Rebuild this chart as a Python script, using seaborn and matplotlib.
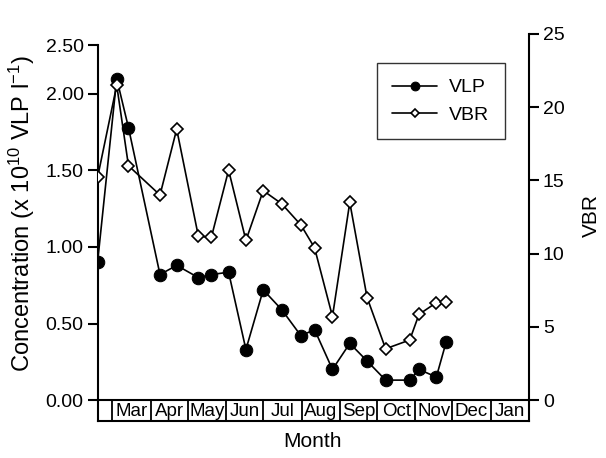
import matplotlib.pyplot as plt
import seaborn as sns

sns.set_style('ticks')
plt.rcParams['font.family'] = ['Liberation Sans', 'DejaVu Sans']
plt.rcParams['mathtext.fontset'] = 'custom'
plt.rcParams['mathtext.rm'] = 'Liberation Sans'
plt.rcParams['mathtext.it'] = 'Liberation Sans:italic'
plt.rcParams['text.color'] = 'black'
plt.rcParams['axes.labelcolor'] = 'black'
plt.rcParams['xtick.color'] = 'black'
plt.rcParams['ytick.color'] = 'black'

# sampling day, counted from 1 March
days = [-12, 3.5, 13, 38.5, 52, 69.5, 80, 94, 108, 122, 137, 152.5, 163.5,
        178, 192, 206, 221, 240.5, 248, 262, 270]
vlp = [0.90, 2.10, 1.78, 0.82, 0.88, 0.80, 0.82, 0.835, 0.33, 0.72, 0.59,
       0.42, 0.46, 0.20, 0.37, 0.255, 0.13, 0.13, 0.20, 0.15, 0.38]
vbr = [15.2, 21.5, 16.0, 14.0, 18.5, 11.2, 11.1, 15.7, 10.9, 14.3, 13.4,
       11.95, 10.4, 5.7, 13.5, 7.0, 3.5, 4.1, 5.85, 6.65, 6.7]

months = ['', 'Mar', 'Apr', 'May', 'Jun', 'Jul', 'Aug', 'Sep', 'Oct', 'Nov', 'Dec', 'Jan']
month_len = [12, 31, 30, 31, 30, 31, 31, 30, 31, 30, 31, 31]
yticks = [0, 0.5, 1.0, 1.5, 2.0, 2.32]
ytick_labels = ['0.00', '0.50', '1.00', '1.50', '2.00', '2.50']

fig = plt.figure(figsize=(6.06, 4.58), dpi=100)
ax = fig.add_axes([0.161, 0.1266, 0.712, 0.7992])
ax2 = ax.twinx()
axm = fig.add_axes([0.161, 0.0808, 0.712, 0.0458])

sns.lineplot(x=days, y=vlp, ax=ax, color='black', marker='o', markersize=9,
             linewidth=1.2, markeredgecolor='black', sort=False)
sns.lineplot(x=days, y=vbr, ax=ax2, color='black', marker='D', markersize=6.5,
             linewidth=1.2, markerfacecolor='white', markeredgecolor='black',
             markeredgewidth=1.2, sort=False)

x0 = -month_len[0]
x1 = sum(month_len[1:])
for a in (ax, ax2, axm):
    a.set_xlim(x0, x1)

ax.set_ylim(0, 2.392)
ax.spines['left'].set_bounds(0, 2.32)
ax.set_yticks(yticks)
ax.set_yticklabels(ytick_labels)
ax2.set_ylim(0, 25)
ax2.set_yticks([0, 5, 10, 15, 20, 25])

for s in ['top', 'right', 'bottom']:
    ax.spines[s].set_visible(False)
for s in ['top', 'left', 'bottom']:
    ax2.spines[s].set_visible(False)
ax.spines['left'].set_linewidth(1.5)
ax.spines['left'].set_color('black')
ax2.spines['right'].set_linewidth(1.5)
ax2.spines['right'].set_color('black')
ax.set_xticks([])
ax2.set_xticks([])
ax.tick_params(axis='y', labelsize=14, width=1.5, length=7, pad=3)
ax2.tick_params(axis='y', labelsize=14, width=1.5, length=7, pad=3)

ax.set_ylabel('Concentration (x 10$^{\\mathregular{10}}$ VLP l$^{\\mathregular{-1}}$)', fontsize=17)
ax.yaxis.set_label_coords(-0.14, 0.51)
ax2.set_ylabel('VBR', fontsize=15)
ax2.yaxis.set_label_coords(1.122, 0.505)

# month boxes under the x axis
edge = x0
for name, n in zip(months, month_len):
    axm.axvline(edge, color='black', lw=1.3)
    axm.text(edge + n / 2, 0.45, name, ha='center', va='center', fontsize=13.5)
    edge += n
axm.set_ylim(0, 1)
axm.set_xticks([])
axm.set_yticks([])
for s in axm.spines.values():
    s.set_linewidth(1.5)
    s.set_color('black')

fig.text(0.515, 0.037, 'Month', ha='center', va='center', fontsize=15)

h1 = ax.get_lines()[0]
h2 = ax2.get_lines()[0]
leg = ax2.legend([h1, h2], ['VLP', 'VBR'], loc='upper left',
                 bbox_to_anchor=(0.622, 0.862), bbox_transform=fig.transFigure,
                 fontsize=14, frameon=True, fancybox=False, edgecolor='black',
                 handlelength=2.3, handletextpad=0.6, borderpad=0.8,
                 labelspacing=0.5, markerscale=0.7, borderaxespad=0)
leg.get_frame().set_linewidth(1.0)

fig.savefig('out.png', dpi=100)
